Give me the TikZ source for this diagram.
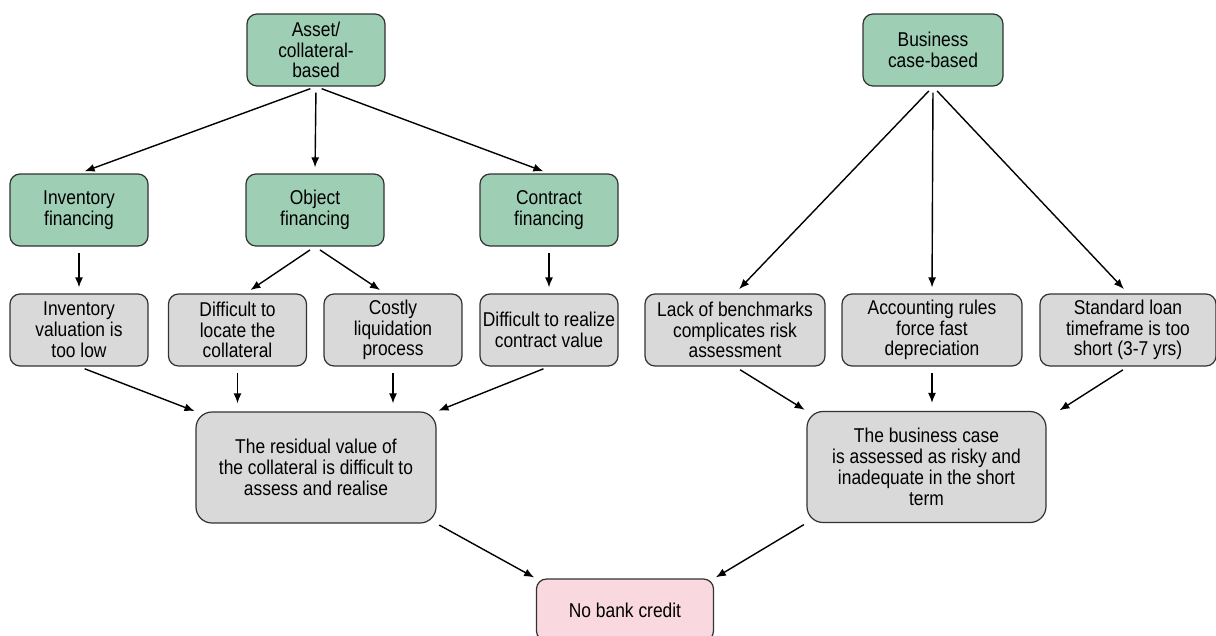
\documentclass[tikz,border=0pt]{standalone}
\usepackage{fontspec}
\setmainfont{Liberation Sans}[FakeStretch=0.87]
\usetikzlibrary{arrows.meta}
\definecolor{boxgreen}{RGB}{158,206,180}
\definecolor{boxgrey}{RGB}{217,217,217}
\definecolor{boxpink}{RGB}{249,216,223}
\definecolor{boxline}{RGB}{50,50,50}
\begin{document}
\begin{tikzpicture}[x=1pt,y=-1pt,>={Latex[length=10pt,width=8pt]},line join=round,
	font=\fontsize{20}{20.8}\selectfont,
	box/.style={draw=boxline,line width=1.2pt,rounded corners=10pt,align=center,inner sep=2pt,minimum height=72pt},
	green/.style={box,fill=boxgreen,minimum width=138pt},
	grey/.style={box,fill=boxgrey,minimum width=138pt},
	wide/.style={box,fill=boxgrey,minimum width=180pt},
	big/.style={box,fill=boxgrey,rounded corners=16pt,minimum width=240pt,minimum height=111pt},
	arr/.style={->,line width=1.4pt,shorten <=6pt,shorten >=6pt}]
	 \useasboundingbox (0,0) rectangle (1216,635);
	 \clip (0,0) rectangle (1216,635);
	 \node[green] (asset) at (316,50) {Asset/\\collateral-\\based};
	 \node[green,minimum width=140pt] (bizcase) at (933,50) {Business\\case-based};
	 \node[green] (invfin) at (79,210) {Inventory\\financing};
	 \node[green] (objfin) at (315,210) {Object\\financing};
	 \node[green] (confin) at (549,210) {Contract\\financing};
	 \node[grey] (invval) at (79,330) {Inventory\\valuation is\\too low};
	 \node[grey] (locate) at (237.5,330) {Difficult to\\locate the\\collateral};
	 \node[grey] (costly) at (393,330) {Costly\\liquidation\\process};
	 \node[grey] (realize) at (549,330) {Difficult to realize\\contract value};
	 \node[wide] (bench) at (735,330) {Lack of benchmarks\\complicates risk\\assessment};
	 \node[wide] (account) at (932,330) {Accounting rules\\force fast\\depreciation};
	 \node[wide,minimum width=176pt] (loan) at (1128,330) {Standard loan\\timeframe is too\\short (3-7 yrs)};
	 \node[big] (resid) at (316,467.5) {The residual value of\\the collateral is difficult to\\assess and realise};
	 \node[big,minimum width=239pt] (bcase) at (926.5,467) {The business case\\is assessed as risky and\\inadequate in the short\\term};
	 \node[box,fill=boxpink,minimum width=177pt,minimum height=62pt] (nobank) at (625,610) {No bank credit};
	 \draw[arr] (asset.south) -- (invfin.north);
	 \draw[arr] (asset.south) -- (objfin.north);
	 \draw[arr] (asset.south) -- (confin.north);
	 \draw[arr] (invfin.south) -- (invval.north);
	 \draw[arr] (objfin.south) -- ([xshift=8pt]locate.north);
	 \draw[arr] (objfin.south) -- ([xshift=-8pt]costly.north);
	 \draw[arr] (confin.south) -- (realize.north);
	 \draw[arr] (bizcase.south) -- (bench.north);
	 \draw[arr] (bizcase.south) -- (account.north);
	 \draw[arr] (bizcase.south) -- (loan.north);
	 \draw[arr,shorten >=1pt] (invval.south) -- (resid.north west);
	 \draw[arr,shorten >=8pt] (locate.south) -- (locate.south |- resid.north);
	 \draw[arr,shorten >=8pt] (costly.south) -- (costly.south |- resid.north);
	 \draw[arr,shorten >=2pt] (realize.south) -- (resid.north east);
	 \draw[arr,shorten >=2pt] (bench.south) -- (bcase.north west);
	 \draw[arr,shorten >=8pt] (account.south) -- (account.south |- bcase.north);
	 \draw[arr,shorten >=1pt] (loan.south) -- ([xshift=12pt]bcase.north east);
	 \draw[arr,shorten <=3pt,shorten >=2pt] (resid.south east) -- (nobank.north west);
	 \draw[arr,shorten <=3pt,shorten >=2pt] (bcase.south west) -- (nobank.north east);
\end{tikzpicture}
\end{document}
